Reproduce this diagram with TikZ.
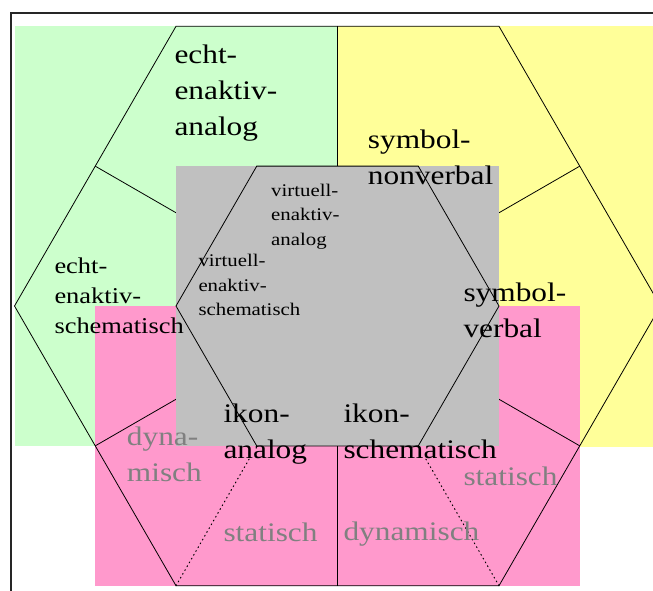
\documentclass[tikz,border=0pt]{standalone}
\usepackage{fontspec}
\setmainfont{Liberation Serif}
\newfontfamily\wideserif[FakeStretch=1.17]{Liberation Serif}
\usetikzlibrary{calc}
\definecolor{enaktivgreen}{RGB}{204,255,204}
\definecolor{symbolyellow}{RGB}{255,255,153}
\definecolor{ikonpink}{RGB}{255,153,204}
\definecolor{virtgray}{RGB}{192,192,192}
\definecolor{mutedgray}{RGB}{128,128,128}
\newcommand\stack[1]{\begin{tabular}[t]{@{}l@{}}#1\end{tabular}}
\tikzset{
  label box/.style={inner sep=0pt, anchor=base west},
  bigtext/.style={label box, font=\wideserif\fontsize{26.8}{36}\selectfont},
  midtext/.style={label box, font=\wideserif\fontsize{22.6}{30}\selectfont},
  smalltext/.style={label box, font=\wideserif\fontsize{17.8}{24.5}\selectfont},
  muted/.style={text=mutedgray},
  edge/.style={draw=black, line width=0.8pt},
  dotline/.style={draw=black, line width=1pt, dash pattern=on 1pt off 3.4pt, line cap=round}
}
\begin{document}
\begin{tikzpicture}[x=1pt, y=-1pt]
\useasboundingbox (0,0) rectangle (653,590);
\clip (0,0) rectangle (653,590);

% outer hexagon vertices
\coordinate (H1) at (176,26.3);
\coordinate (H2) at (499,26.3);
\coordinate (H3) at (660.5,306);
\coordinate (H4) at (499,585.7);
\coordinate (H5) at (176,585.7);
\coordinate (H6) at (14.5,306);
% inner hexagon vertices
\coordinate (h1) at (256.75,166.1);
\coordinate (h2) at (418.25,166.1);
\coordinate (h3) at (499,306);
\coordinate (h4) at (418.25,445.9);
\coordinate (h5) at (256.75,445.9);
\coordinate (h6) at (176,306);
% edge midpoints
\foreach \a/\b [count=\i] in {1/2,2/3,3/4,4/5,5/6,6/1}{
  \coordinate (M\i) at ($(H\a)!0.5!(H\b)$);
  \coordinate (m\i) at ($(h\a)!0.5!(h\b)$);
}

% coloured fields
\fill[enaktivgreen] (15,26.3) rectangle (338,446);
\fill[symbolyellow] (338,26.3) rectangle (670,446.7);
\fill[ikonpink] (M5 |- h6) rectangle (M3 |- H5);

% outer hexagon and spokes
\draw[edge] (H1) -- (H2) -- (H3) -- (H4) -- (H5) -- (H6) -- cycle;
\foreach \i in {1,...,6}{\draw[edge] (M\i) -- (m\i);}

% virtual core
\fill[virtgray] (h6 |- h1) rectangle (h3 |- h4);
\draw[edge] (h1) -- (h2) -- (h3) -- (h4) -- (h5) -- (h6) -- cycle;

% dotted dividers in the ikon sectors
\draw[dotline, shorten >=15pt] (H5) -- (h5);
\draw[dotline, shorten >=15pt] (H4) -- (h4);

% frame
\draw[line width=1.4pt, black!85] (11,600) -- (11,13) -- (670,13);

% labels
\node[bigtext] (eea) at (174.3,63.5) {\stack{echt-\\enaktiv-\\analog}};
\node[midtext] (ees) at (54.3,273.5) {\stack{echt-\\enaktiv-\\schematisch}};
\node[smalltext] (vea) at (271,196) {\stack{virtuell-\\enaktiv-\\analog}};
\node[smalltext] (ves) at (198.3,266.7) {\stack{virtuell-\\enaktiv-\\schematisch}};
\node[bigtext] (snv) at (367.7,148.3) {\stack{symbol-\\nonverbal}};
\node[bigtext] (sv) at (463.3,301.7) {\stack{symbol-\\verbal}};
\node[bigtext] (ia) at (223.3,422.3) {\stack{ikon-\\analog}};
\node[bigtext] (is) at (343.3,422.3) {\stack{ikon-\\schematisch}};
\node[bigtext, muted] (dyn1) at (126.7,445) {\stack{dyna-\\misch}};
\node[bigtext, muted] (stat1) at (223.3,541.7) {statisch};
\node[bigtext, muted] (dyn2) at (343.3,540.7) {dynamisch};
\node[bigtext, muted] (stat2) at (463.3,485) {statisch};
\end{tikzpicture}
\end{document}
